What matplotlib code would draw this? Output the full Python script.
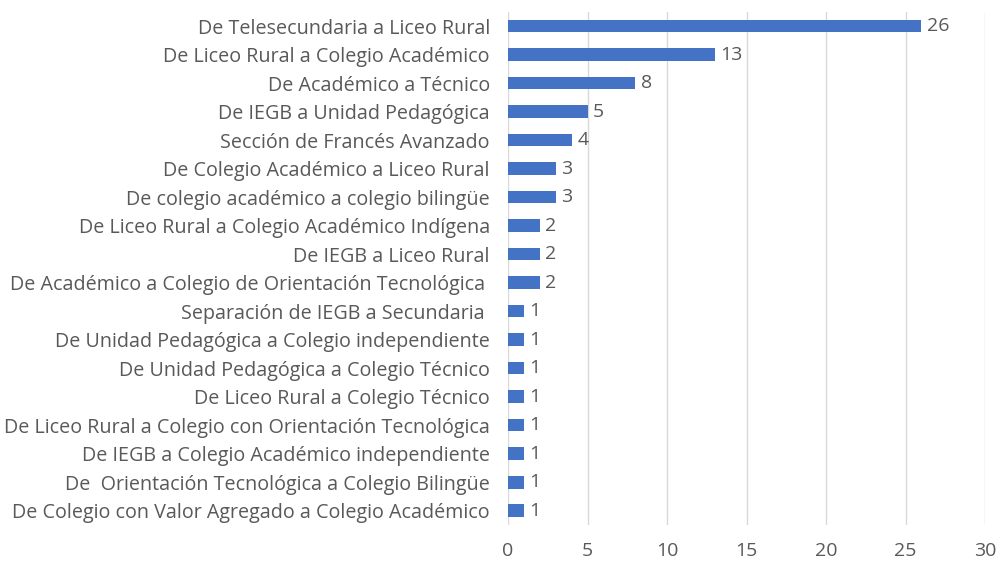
import matplotlib.pyplot as plt

plt.rcParams['font.family'] = ['Open Sans', 'DejaVu Sans']

categorias = [
    "De Telesecundaria a Liceo Rural",
    "De Liceo Rural a Colegio Académico",
    "De Académico a Técnico",
    "De IEGB a Unidad Pedagógica",
    "Sección de Francés Avanzado",
    "De Colegio Académico a Liceo Rural",
    "De colegio académico a colegio bilingüe",
    "De Liceo Rural a Colegio Académico Indígena",
    "De IEGB a Liceo Rural",
    "De Académico a Colegio de Orientación Tecnológica ",
    "Separación de IEGB a Secundaria ",
    "De Unidad Pedagógica a Colegio independiente",
    "De Unidad Pedagógica a Colegio Técnico",
    "De Liceo Rural a Colegio Técnico",
    "De Liceo Rural a Colegio con Orientación Tecnológica",
    "De IEGB a Colegio Académico independiente",
    "De  Orientación Tecnológica a Colegio Bilingüe",
    "De Colegio con Valor Agregado a Colegio Académico",
]
valores = [26, 13, 8, 5, 4, 3, 3, 2, 2, 2, 1, 1, 1, 1, 1, 1, 1, 1]
xticks = [0, 5, 10, 15, 20, 25, 30]

gris = '#595959'
fig = plt.figure(figsize=(10, 5.63), dpi=100)
ax = fig.add_axes([0.508, 0.0675, 0.477, 0.9115])

pos = list(range(len(categorias)))
bars = ax.barh(pos, valores, height=0.44, color='#4472C4', zorder=3)
for b, v in zip(bars, valores):
    ax.annotate(str(v), (b.get_width(), b.get_y() + b.get_height() / 2),
                xytext=(4, 0), textcoords='offset points', va='center',
                ha='left', fontsize=14, color=gris)

ax.set_yticks(pos)
ax.set_yticklabels(categorias, fontsize=14.2, color=gris)
ax.set_ylim(len(categorias) - 0.5, -0.5)
ax.set_xlim(0, 30)
ax.set_xticks(xticks)
ax.set_xticklabels([str(t) for t in xticks], fontsize=14, color=gris)
ax.tick_params(axis='both', length=0)
ax.tick_params(axis='x', pad=12)
ax.tick_params(axis='y', pad=13)
ax.grid(axis='x', color='#d9d9d9', linewidth=1, zorder=0)
for s in ax.spines.values():
    s.set_visible(False)

fig.savefig('out.png', dpi=100, facecolor='white')
